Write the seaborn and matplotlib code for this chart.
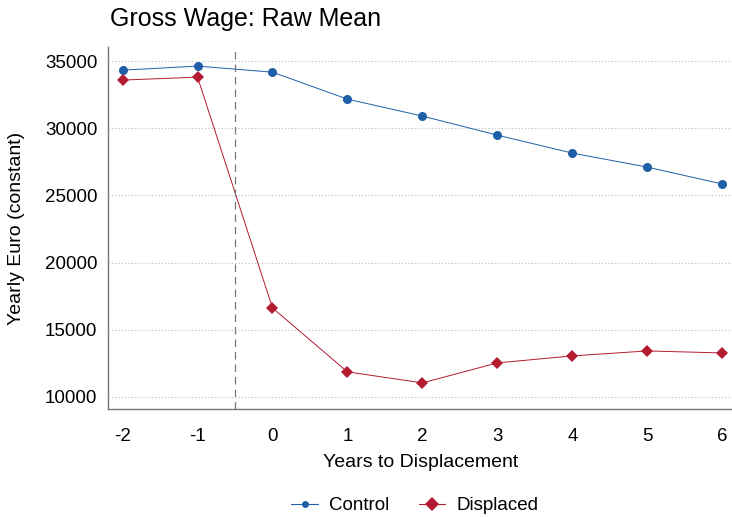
import pandas as pd
import seaborn as sns
import matplotlib.pyplot as plt

# ----------------------------------------------------------------------
# DATA
# ----------------------------------------------------------------------
years = [-2, -1, 0, 1, 2, 3, 4, 5, 6]
control = [34330, 34630, 34180, 32170, 30910, 29490, 28150, 27110, 25850]
displaced = [33590, 33810, 16620, 11860, 11040, 12530, 13050, 13420, 13270]
y_ticks = [10000, 15000, 20000, 25000, 30000, 35000]

df = pd.DataFrame({
    "year": years * 2,
    "wage": control + displaced,
    "group": ["Control"] * len(years) + ["Displaced"] * len(years),
})

palette = {"Control": "#1f5fa8", "Displaced": "#b31b30"}

sns.set_style("white")
plt.rcParams["font.family"] = ["Liberation Sans", "DejaVu Sans"]
plt.rcParams["axes.unicode_minus"] = False
plt.rcParams["text.color"] = "black"
plt.rcParams["axes.labelcolor"] = "black"
plt.rcParams["xtick.color"] = "black"
plt.rcParams["ytick.color"] = "black"

fig = plt.figure(figsize=(7.32, 5.17), dpi=100)
ax = fig.add_axes([0.148, 0.209, 0.852, 0.700])

sns.lineplot(
    data=df, x="year", y="wage", hue="group", style="group",
    palette=palette, markers={"Control": "o", "Displaced": "D"},
    dashes=False, linewidth=0.7, markersize=6.5, markeredgewidth=0,
    ax=ax, legend=False,
)

# event line
ax.axvline(-0.5, color="#777777", linestyle=(0, (6, 4)), linewidth=0.9)

ax.set_xlim(-2.19, 6.13)
ax.set_ylim(9100, 36050)
ax.set_xticks(years)
ax.set_yticks(y_ticks)
ax.tick_params(axis="both", labelsize=13.5, length=0)
ax.tick_params(axis="x", pad=14)
ax.tick_params(axis="y", pad=8)
ax.grid(axis="y", linestyle=(0, (1, 2)), color="#bbbbbb", linewidth=0.8)

for s in ["top", "right"]:
    ax.spines[s].set_visible(False)
for s in ["left", "bottom"]:
    ax.spines[s].set_color("#777777")
    ax.spines[s].set_linewidth(1.0)

ax.set_xlabel("Years to Displacement", fontsize=14, labelpad=6)
ax.set_ylabel("Yearly Euro (constant)", fontsize=14, labelpad=14)
fig.text(0.15, 0.94, "Gross Wage: Raw Mean", fontsize=18, ha="left", va="bottom")

# legend at the bottom
handles = [
    plt.Line2D([], [], color=palette["Control"], marker="o", markersize=5,
               linewidth=0.8, markeredgewidth=0),
    plt.Line2D([], [], color=palette["Displaced"], marker="D", markersize=7,
               linewidth=0.8, markeredgewidth=0),
]
fig.legend(handles, ["Control", "Displaced"], loc="center", ncol=2,
           bbox_to_anchor=(0.567, 0.022), frameon=False, fontsize=13.5,
           handlelength=1.4, handletextpad=0.6, columnspacing=1.6)

plt.savefig("out.png", dpi=100)
